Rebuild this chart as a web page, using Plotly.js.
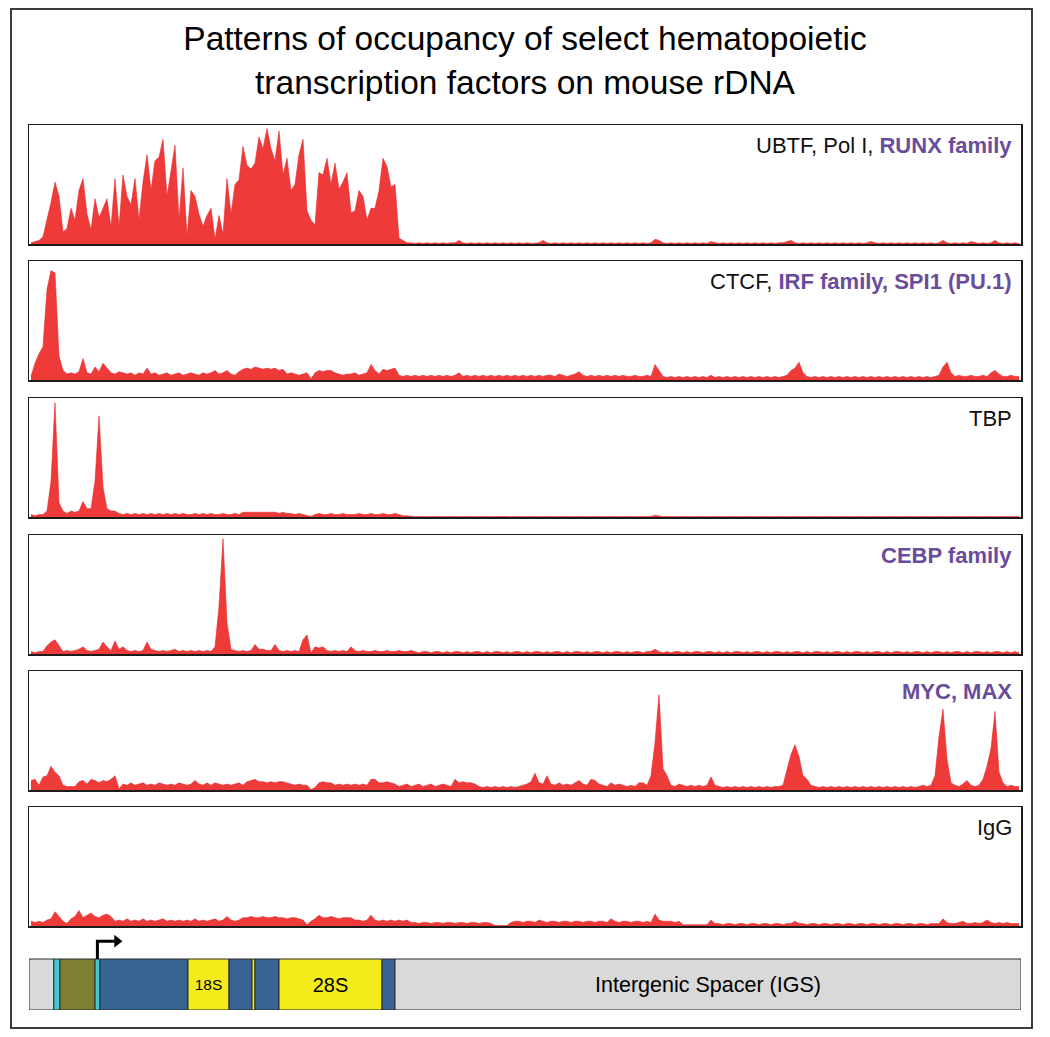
<!DOCTYPE html>
<html><head><meta charset="utf-8">
<script src="https://cdn.plot.ly/plotly-3.0.1.min.js"></script>
<style>html,body{margin:0;padding:0;background:#fff}</style>
</head><body><div id="chart" style="width:1050px;height:1037px"></div>
<script>
// ---- Data: ChIP-seq occupancy along one mouse rDNA repeat (248 bins, % of track max) ----
const trackLabels = [
  "UBTF, Pol I, <b><span style='color:#6a4c9c'>RUNX family</span></b>",
  "CTCF, <b><span style='color:#6a4c9c'>IRF family, SPI1 (PU.1)</span></b>",
  "TBP",
  "<b><span style='color:#6a4c9c'>CEBP family</span></b>",
  "<b><span style='color:#6a4c9c'>MYC, MAX</span></b>",
  "IgG"
];

const ubtf = [
  1,2,3,6,20,35,52,40,10,13,
  30,20,45,55,25,12,38,22,30,38,
  14,55,14,58,40,33,55,20,52,75,
  45,70,73,88,40,60,83,20,64,6,
  45,40,25,15,24,30,4,24,8,55,
  25,50,54,82,66,63,68,90,80,97,
  80,70,95,58,72,45,50,75,88,28,
  20,16,60,58,72,50,68,46,52,60,
  26,28,45,40,20,30,30,45,72,65,
  48,50,5,3,1,1,0.5,1,0.5,1,
  0.5,1,0.5,1,0.5,1,1,3,1,0.5,
  1,0.5,1,0.5,1,0.5,1,0.5,1,0.5,
  1,0.5,1,0.5,1,0.5,1,1,3,1,
  0.5,1,0.5,1,0.5,1,0.5,1,0.5,1,
  0.5,1,0.5,1,0.5,1,0.5,1,0.5,1,
  0.5,1,0.5,1,0.5,1,4,3,1,0.5,
  1,0.5,1,0.5,1,0.5,1,0.5,1,0.5,
  2,1,0.5,1,0.5,1,0.5,1,0.5,1,
  0.5,1,0.5,1,0.5,1,0.5,1,1,2,
  3,1,0.5,1,0.5,1,0.5,1,0.5,1,
  0.5,1,0.5,1,0.5,1,0.5,1,0.5,1,
  2,1,0.5,1,0.5,1,0.5,1,0.5,1,
  0.5,1,0.5,1,0.5,1,0.5,1,3,1,
  0.5,1,0.5,1,0.5,2,1,0.5,1,0.5,
  1,3,1,0.5,1,0.5,1,0.5
];

const ctcf = [
  3,14,22,28,76,92,90,20,8,5,
  6,5,7,18,6,5,11,7,14,10,
  6,5,7,6,5,6,4,6,5,10,
  5,6,4,5,6,4,5,6,4,5,
  6,5,4,6,5,6,8,5,6,8,
  5,4,7,9,10,9,11,10,9,10,
  9,10,8,9,5,6,5,4,5,6,
  1,6,8,7,8,8,6,5,4,5,
  5,6,4,5,6,13,8,5,9,8,
  9,10,4,3,4,3,4,3,4,3,
  4,3,4,3,4,3,4,6,3,4,
  3,4,3,4,3,4,3,4,3,4,
  3,4,3,4,3,4,3,4,3,4,
  4,3,5,4,3,4,5,7,4,3,
  4,3,4,3,4,3,4,3,4,3,
  3,4,3,3,4,3,13,8,3,2,
  3,2,3,2,3,2,3,2,3,2,
  4,2,3,2,3,2,3,2,3,2,
  3,2,3,2,3,2,3,2,3,4,
  8,10,15,6,3,2,3,2,3,2,
  3,2,3,2,3,2,3,2,3,2,
  3,2,3,2,3,2,3,2,3,2,
  3,2,3,2,3,2,3,4,11,15,
  6,3,4,3,3,4,3,3,4,3,
  6,8,5,3,3,4,3,3
];

const tbp = [
  2,1,2,2,5,30,96,12,5,3,
  5,4,5,13,7,7,30,85,25,7,
  5,5,3,2,3,2,3,2,3,2,
  3,2,3,2,3,2,3,2,3,2,
  2,3,2,3,2,3,2,2,3,2,
  2,3,2,4,4,4,4,4,4,4,
  4,4,3,4,3,3,2,3,2,1,
  0.5,2,3,2,2,3,2,2,3,2,
  2,2,3,2,2,3,2,2,3,2,
  2,3,2,1,1,0.5,0.3,0.5,0.3,0.5,
  0.3,0.5,0.3,0.5,0.3,0.5,0.3,0.5,0.3,0.5,
  0.3,0.5,0.3,0.5,0.3,0.5,0.3,0.5,0.3,0.5,
  0.3,0.5,0.3,0.5,0.3,0.5,0.3,0.5,0.3,0.5,
  0.3,0.5,0.3,0.5,0.3,0.5,0.3,0.5,0.3,0.5,
  0.3,0.5,0.3,0.5,0.3,0.5,0.3,0.5,0.3,0.5,
  0.3,0.5,0.3,0.5,0.3,0.5,1.5,0.8,0.3,0.5,
  0.3,0.5,0.3,0.5,0.3,0.5,0.3,0.5,0.3,0.5,
  0.3,0.5,0.3,0.5,0.3,0.5,0.3,0.5,0.3,0.5,
  0.3,0.5,0.3,0.5,0.3,0.5,0.3,0.5,0.3,0.5,
  0.3,0.5,0.3,0.5,0.3,0.5,0.3,0.5,0.3,0.5,
  0.3,0.5,0.3,0.5,0.3,0.5,0.3,0.5,0.3,0.5,
  0.3,0.5,0.3,0.5,0.3,0.5,0.3,0.5,0.3,0.5,
  0.3,0.5,0.3,0.5,0.3,0.5,0.3,0.5,0.3,0.5,
  0.3,0.5,0.3,0.5,0.3,0.5,0.3,0.5,0.3,0.5,
  0.3,0.5,0.3,0.5,0.3,0.5,0.3,0.5
];

const cebp = [
  2,1,2,2,7,10,12,7,2,3,
  2,3,4,6,3,2,3,4,10,6,
  3,11,4,6,3,2,3,2,3,10,
  4,3,2,3,2,3,4,2,3,2,
  3,2,3,2,3,2,6,40,97,26,
  4,3,2,3,2,3,8,4,4,3,
  3,8,3,2,3,2,3,2,12,16,
  1,6,5,6,3,2,3,2,3,2,
  6,3,2,3,2,2,3,2,2,3,
  2,2,3,2,2,3,2,1,2,2,
  1,2,2,1,2,1,2,2,1,2,
  1,2,2,1,2,1,2,2,1,2,
  1,2,2,1,2,1,2,2,1,2,
  1,2,2,1,2,1,2,2,1,2,
  1,2,2,1,2,1,2,2,1,2,
  1,2,2,1,2,2,4,2,1,2,
  1,2,2,1,2,1,2,2,1,2,
  2,1,2,1,2,1,2,2,1,2,
  1,2,2,1,2,1,2,2,1,2,
  1,2,2,1,2,1,2,2,1,2,
  1,2,2,1,2,1,2,2,1,2,
  1,2,2,1,2,1,2,2,1,2,
  1,2,2,1,2,1,2,2,1,2,
  1,2,2,1,2,1,2,2,1,2,
  1,2,2,1,2,1,2,1
];

const mycMax = [
  8,9,4,11,12,20,15,12,4,3,
  3,3,7,8,5,9,8,6,8,7,
  9,12,1,5,4,6,4,5,6,4,
  5,4,6,5,4,5,4,6,5,4,
  5,8,5,4,6,4,6,5,4,5,
  4,5,6,4,7,8,9,7,7,6,
  7,6,7,7,6,5,4,5,4,4,
  0.5,2,6,7,6,6,4,5,4,5,
  4,5,4,5,4,9,9,6,6,7,
  6,5,3,4,5,3,4,5,3,4,
  5,3,4,5,4,3,9,6,7,6,
  6,5,3,2,3,2,3,2,3,2,
  3,2,3,4,5,7,14,6,5,12,
  5,4,6,4,5,4,6,8,5,4,
  9,8,5,4,3,6,4,5,4,3,
  4,3,6,6,4,12,40,80,18,12,
  4,3,5,4,3,4,3,4,3,4,
  11,4,3,2,3,2,3,2,3,2,
  3,2,3,2,3,2,3,3,4,16,
  30,38,28,12,9,4,3,2,3,2,
  3,2,3,2,3,2,3,2,3,2,
  3,2,3,2,3,2,3,2,3,2,
  3,2,3,4,3,4,12,45,68,26,
  6,4,3,5,8,4,3,4,9,20,
  35,66,15,6,3,4,3,3
];

const igg = [
  4,3,4,3,5,6,12,8,4,2,
  6,8,13,7,9,11,8,7,9,10,
  8,4,5,4,6,4,5,4,6,4,
  5,4,5,6,4,5,4,5,4,5,
  4,6,4,5,4,5,6,4,5,8,
  5,4,5,7,7,8,7,7,8,7,
  7,8,7,7,6,7,7,6,5,1,
  4,6,9,7,7,8,7,6,7,7,
  7,5,5,4,5,9,5,4,5,4,
  5,4,5,4,5,3,3,2,3,3,
  2,3,3,2,3,3,2,3,3,2,
  3,3,2,3,3,2,0.5,0.5,0.5,0.5,
  3,4,4,3,4,4,3,5,4,3,
  4,4,3,4,4,3,4,4,3,4,
  4,3,4,4,3,6,4,3,4,4,
  3,4,4,3,4,3,10,5,4,4,
  4,3,4,1,1,0.5,1,1,1,1,
  5,2,2,1,2,2,1,2,2,1,
  2,2,1,2,2,1,2,2,1,2,
  2,4,2,2,1,2,2,1,2,2,
  1,2,2,1,2,2,1,2,2,1,
  2,2,1,2,2,1,2,2,1,2,
  2,1,2,2,1,2,2,2,6,3,
  2,2,3,4,2,2,3,2,3,5,
  3,2,3,2,3,2,2,2
];

// rDNA gene map (same bin units)
const geneStart = [0, 6.2, 7.75, 16.5, 17.75, 39.75, 50, 55.75, 56.5, 62.5, 88.25, 91.5];
const geneEnd   = [6.2, 7.75, 16.5, 17.75, 39.75, 50, 55.75, 56.5, 62.5, 88.25, 91.5, 248];
const geneType  = ["IGS","promoter","enhancer","promoter","spacer","rRNA","spacer","rRNA","spacer","rRNA","spacer","IGS"];
const geneLabel = ["","","","","","18S","","","","28S","","Intergenic Spacer (IGS)"];
const tssPos = 17.1;

// ---- Styling / layout ----
const W = 1050, H = 1037;
const typeColor = {IGS:"#d9d9d9", promoter:"#45c6d4", enhancer:"#7f7f31", spacer:"#386494", rRNA:"#f4ec1a"};
const labelSize = {"18S":15.5, "28S":20, "Intergenic Spacer (IGS)":21.5};
const panelsPx = [[125,244],[261,380],[398,517],[535,654],[671,790],[807,926]];
const genePx = [935,1010];
const xDom = [29/W, 1021/W];
const FONT = "Arial, 'Liberation Sans', Helvetica, sans-serif";
const tracks = [ubtf, ctcf, tbp, cebp, mycMax, igg];

const data = [];
const layout = {
  width: W, height: H, margin:{l:0,r:0,t:0,b:0},
  paper_bgcolor:"#fff", plot_bgcolor:"rgba(0,0,0,0)",
  showlegend:false, hovermode:false,
  font:{family:FONT, color:"#111"},
  title:{text:"Patterns of occupancy of select hematopoietic<br>transcription factors on mouse rDNA",
         font:{size:33.5, family:FONT, color:"#000"}, x:0.5, xanchor:"center",
         xref:"paper", yref:"paper", y:1-50/H, yanchor:"middle"},
  annotations:[], shapes:[]
};
function pyDom(top, bot){ return [1-bot/H, 1-top/H]; }

tracks.forEach((arr,i)=>{
  const k = i+1, s = k===1 ? "" : String(k);
  data.push({type:"scatter", mode:"lines", x0:0.5, dx:1, y:arr,
    xaxis:"x"+s, yaxis:"y"+s, fill:"tozeroy",
    line:{color:"#e8282c", width:0.6, shape:"linear"}, fillcolor:"#ef3a3a"});
  layout["xaxis"+s] = {domain:xDom, range:[0,248], anchor:"y"+s, showline:true, mirror:true,
    linecolor:"#1c1c1c", linewidth:1.5, showgrid:false, zeroline:false, ticks:"", showticklabels:false, fixedrange:true};
  layout["yaxis"+s] = {domain:pyDom(panelsPx[i][0], panelsPx[i][1]), range:[0,100], anchor:"x"+s,
    showline:true, mirror:true, linecolor:"#1c1c1c", linewidth:1.5, showgrid:false, zeroline:false,
    ticks:"", showticklabels:false, fixedrange:true};
  layout.annotations.push({xref:"paper", yref:"paper", x:1014/W, y:1-(panelsPx[i][0]+20.5)/H,
    xanchor:"right", yanchor:"middle", showarrow:false, text:trackLabels[i],
    font:{size:22, family:FONT, color:"#111"}});
});

// gene map on axis 7
const gy = (genePx[1]-genePx[0]) / 51; // y-range so that one unit = bar height
data.push({type:"bar", orientation:"h", xaxis:"x7", yaxis:"y7",
  base:geneStart, x:geneEnd.map((e,j)=>e-geneStart[j]), y:geneStart.map(()=>0.5), width:1,
  marker:{color:geneType.map(t=>typeColor[t]), line:{color:"#2a2a2a", width:1}},
  text:geneLabel, textposition:"inside", insidetextanchor:"middle", textangle:0,
  constraintext:"none",
  textfont:{family:FONT, color:"#000", size:geneLabel.map(l=>labelSize[l]||10)}});
data.push({type:"scatter", mode:"lines", xaxis:"x7", yaxis:"y7",
  x:[tssPos, tssPos, tssPos+4.3], y:[1, 1.35, 1.35], line:{color:"#000", width:3}});
data.push({type:"scatter", mode:"markers", xaxis:"x7", yaxis:"y7",
  x:[tssPos+4.9], y:[1.35], marker:{symbol:"triangle-right", size:11, color:"#000"}});
layout.xaxis7 = {domain:xDom, range:[0,248], anchor:"y7", visible:false, fixedrange:true};
layout.yaxis7 = {domain:pyDom(genePx[0], genePx[1]), range:[0,gy], anchor:"x7", visible:false, fixedrange:true};
layout.barmode = "overlay";

// outer frame
layout.shapes.push({type:"rect", xref:"paper", yref:"paper", x0:11/W, x1:1032/W, y0:1-1028/H, y1:1-9/H,
  line:{color:"#3a3a3a", width:2}, fillcolor:"rgba(0,0,0,0)"});

Plotly.newPlot("chart", data, layout, {staticPlot:true, displayModeBar:false});
</script></body></html>
